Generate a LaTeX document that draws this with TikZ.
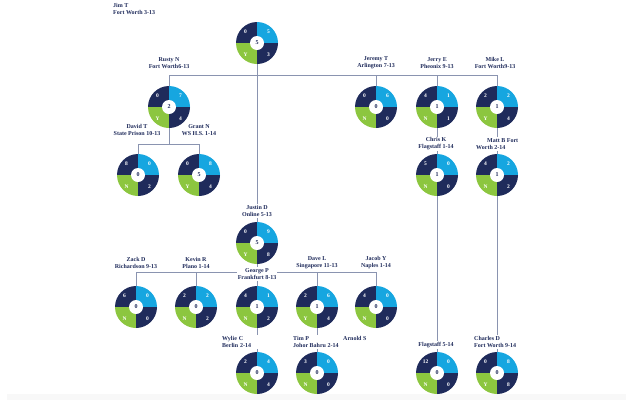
\documentclass[tikz,border=0pt]{standalone}
\usepackage{fontspec}
\setmainfont{Liberation Serif}
\definecolor{cnavy}{HTML}{1F2B5B}
\definecolor{cblue}{HTML}{16A6E0}
\definecolor{cgreen}{HTML}{8CC63F}
\definecolor{cline}{HTML}{8A94B0}
\definecolor{cband}{HTML}{F8F8F8}
\tikzset{
  pcirc/.style={circle,minimum size=42pt,inner sep=0pt,outer sep=0pt},
  qn/.style={text=white,font=\bfseries\fontsize{5.5}{5.5}\selectfont,inner sep=0pt},
  cn/.style={text=cnavy,font=\bfseries\fontsize{6}{6}\selectfont,inner sep=0pt},
  lbl/.style={text=cnavy,font=\bfseries\fontsize{6}{7}\selectfont,fill=white,inner sep=1pt,align=center},
  lbll/.style={lbl,align=left},
  ln/.style={draw=cline,line width=0.8pt}
}
\newcommand\pcr[7]{%
  \node[pcirc] (#1) at (#2) {};
  \fill[cnavy] (#1.center) -- (#1.north) arc[start angle=90,end angle=180,radius=21pt] -- cycle;
  \fill[cblue] (#1.center) -- (#1.east) arc[start angle=0,end angle=90,radius=21pt] -- cycle;
  \fill[cgreen] (#1.center) -- (#1.west) arc[start angle=180,end angle=270,radius=21pt] -- cycle;
  \fill[cnavy] (#1.center) -- (#1.south) arc[start angle=270,end angle=360,radius=21pt] -- cycle;
  \fill[white] (#1.center) circle[radius=7pt];
  \node[qn] (#1-a) at ([shift={(-11.5pt,11.5pt)}]#1.center) {#3};
  \node[qn] (#1-b) at ([shift={(11.5pt,11.5pt)}]#1.center) {#4};
  \node[qn] (#1-d) at ([shift={(-11.5pt,-11.5pt)}]#1.center) {#5};
  \node[qn] (#1-e) at ([shift={(11.5pt,-11.5pt)}]#1.center) {#6};
  \node[cn] (#1-c) at (#1.center) {#7};
}
\begin{document}
\begin{tikzpicture}[x=1pt,y=-1pt]
\useasboundingbox (0,0) rectangle (626,400);
\fill[cband] (7,394) rectangle (626,400);
% circle geometry nodes (placeholders first for connectors)
\foreach \n/\p in {jim/{257,43},rusty/{169,107},jeremy/{376,107},jerry/{437,107},mike/{497,107},
  david/{138,175},grant/{199,175},chris/{437,175},matt/{497,175},justin/{257,243},
  zack/{136,307},kevin/{196,307},george/{257,307},dave/{317,307},jacob/{376,307},
  wylie/{257,373},tim/{317,373},flag/{437,373},charles/{497,373}}
  {\node[pcirc] (\n) at (\p) {};}
% connectors
\coordinate (b1l) at (169,75);
\coordinate (b1r) at (497,75);
\draw[ln] (b1l) -- (b1r);
\draw[ln] (b1l) -- (rusty);
\draw[ln] (b1r) -- (mike);
\draw[ln] (b1l -| jeremy) -- (jeremy);
\draw[ln] (b1l -| jerry) -- (jerry);
\draw[ln] (jim) -- (justin);
\coordinate (b2l) at (138,144);
\coordinate (b2r) at (199,144);
\draw[ln] (b2l) -- (b2r);
\draw[ln] (rusty) -- (rusty |- b2l);
\draw[ln] (b2l) -- (david);
\draw[ln] (b2r) -- (grant);
\draw[ln] (jerry) -- (chris);
\draw[ln] (chris) -- (flag);
\draw[ln] (mike) -- (matt);
\draw[ln] (matt) -- (charles);
\coordinate (b3l) at (136,272);
\coordinate (b3r) at (376,272);
\draw[ln] (b3l) -- (b3r);
\draw[ln] (justin) -- (george);
\draw[ln] (b3l) -- (zack);
\draw[ln] (b3l -| kevin) -- (kevin);
\draw[ln] (b3l -| dave) -- (dave);
\draw[ln] (b3r) -- (jacob);
\draw[ln] (george) -- (wylie);
\draw[ln] (dave) -- (tim);
% labels
\node[lbll,anchor=north west,fill=none] (l-jim) at (112,2) {Jim T\\Fort Worth 3-13};
\node[lbl] (l-rusty) at (169,63) {Rusty N\\Fort Worth6-13};
\node[lbl] (l-jeremy) at (376,63) {Jeremy T\\Arlington 7-13};
\node[lbl] (l-jerry) at (437,63) {Jerry E\\Pheonix 9-13};
\node[lbl] (l-mike) at (495,63) {Mike L\\Fort Worth9-13};
\node[lbl] (l-david) at (137,130) {David T\\State Prison 10-13};
\node[lbl] (l-grant) at (199,130) {Grant N\\WS H.S. 1-14};
\node[lbl] (l-chris) at (436,144) {Chris K\\Flagstaff 1-14};
\node[lbll,anchor=west] (l-matt) at (475,144) {\hspace*{11pt}Matt B Fort\\Worth 2-14};
\node[lbl] (l-justin) at (257,211) {Justin D\\Online 5-13};
\node[lbl] (l-zack) at (136,263) {Zack D\\Richardson 9-13};
\node[lbl] (l-kevin) at (196,263) {Kevin R\\Plano 1-14};
\node[lbl] (l-george) at (257,274) {George P\\Frankfurt 8-13};
\node[lbl] (l-dave) at (317,263) {Dave L\\Singapore 11-13};
\node[lbl] (l-jacob) at (376,263) {Jacob Y\\Naples 1-14};
\node[lbll,anchor=west,text width=36pt] (l-wylie) at (221,342) {Wylie C\\Berlin 2-14};
\node[lbll,anchor=west] (l-tim) at (292,342) {Tim P\\Johor Bahru 2-14};
\node[lbll,anchor=west,fill=none] (l-arnold) at (342,338) {Arnold S};
\node[lbl] (l-flag) at (436,345) {Flagstaff 5-14};
\node[lbll,anchor=west] (l-charles) at (473,342) {Charles D\\Fort Worth 9-14};
% circles
\pcr{jim}{257,43}{0}{5}{Y}{3}{5}
\pcr{rusty}{169,107}{0}{7}{Y}{4}{2}
\pcr{jeremy}{376,107}{0}{6}{N}{0}{0}
\pcr{jerry}{437,107}{4}{1}{N}{1}{1}
\pcr{mike}{497,107}{2}{2}{Y}{4}{1}
\pcr{david}{138,175}{8}{0}{N}{2}{0}
\pcr{grant}{199,175}{0}{8}{Y}{4}{5}
\pcr{chris}{437,175}{5}{0}{N}{0}{1}
\pcr{matt}{497,175}{4}{2}{N}{2}{1}
\pcr{justin}{257,243}{0}{9}{Y}{8}{5}
\pcr{zack}{136,307}{6}{0}{N}{0}{0}
\pcr{kevin}{196,307}{2}{2}{N}{2}{0}
\pcr{george}{257,307}{4}{1}{N}{2}{1}
\pcr{dave}{317,307}{2}{6}{Y}{4}{1}
\pcr{jacob}{376,307}{4}{0}{N}{0}{0}
\pcr{wylie}{257,373}{2}{4}{N}{4}{0}
\pcr{tim}{317,373}{3}{0}{N}{0}{0}
\pcr{flag}{437,373}{12}{0}{N}{0}{0}
\pcr{charles}{497,373}{0}{8}{Y}{8}{0}
\end{tikzpicture}
\end{document}
